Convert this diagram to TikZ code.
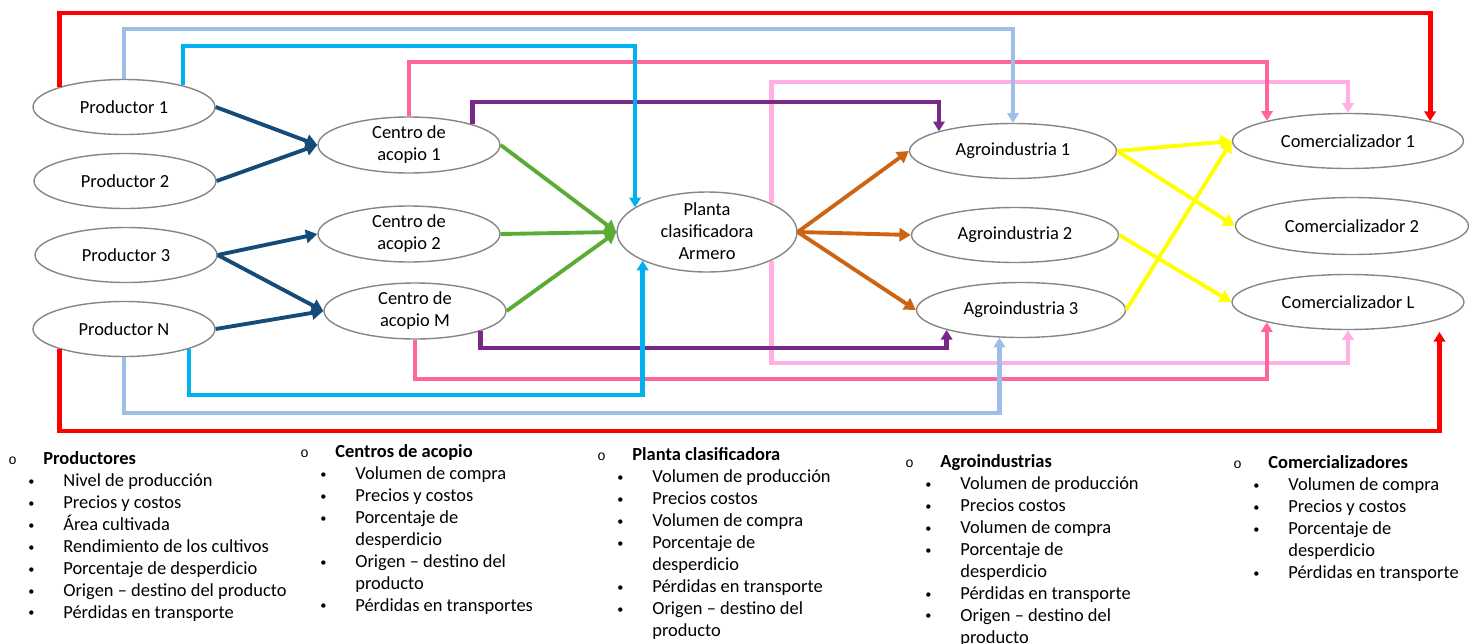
\documentclass[tikz,border=0pt]{standalone}
\usepackage{fontspec}
\setmainfont{Carlito}
\newfontfamily\ringfont{Liberation Mono}
\usetikzlibrary{shapes.geometric, arrows.meta, calc}
\definecolor{prodblue}{RGB}{20, 75, 120}
\definecolor{acopgreen}{RGB}{90, 172, 55}
\definecolor{agroorange}{RGB}{205, 100, 20}
\definecolor{comyellow}{RGB}{255, 255, 0}
\definecolor{linkred}{RGB}{255, 0, 0}
\definecolor{linkblue}{RGB}{157, 190, 230}
\definecolor{linkcyan}{RGB}{0, 176, 240}
\definecolor{linkpink}{RGB}{255, 102, 153}
\definecolor{linkrose}{RGB}{255, 175, 228}
\definecolor{linkpurple}{RGB}{120, 40, 135}

\newcommand{\lsthead}[1]{\makebox[0.7cm][l]{\ringfont\footnotesize o}\textbf{#1}}
\newcommand{\lstitem}[1]{\hspace*{0.4cm}\makebox[0.7cm][l]{\raisebox{0.6pt}{\scriptsize\textbullet}}#1}
\newcommand{\lstcont}[1]{\hspace*{1.1cm}#1}

\begin{document}
\begin{tikzpicture}[
    x=0.02cm, y=-0.02cm,
    font=\fontsize{10.5}{12.5}\selectfont,
    actor/.style={ellipse, draw=gray!95, line width=0.8pt, inner sep=0pt, minimum height=1.1cm, align=center},
    flow/.style={line width=2.2pt, -{Triangle[length=6.5pt, width=7.5pt]}},
    route/.style={line width=2.5pt, -{Triangle[length=5.5pt, width=6.5pt]}},
    lst/.style={anchor=north west, inner sep=0pt, align=left},
]
\useasboundingbox (0,0) rectangle (1478,643);

% --- Actors of the chain ---
\node[actor, minimum width=3.64cm] (p1) at (124,107) {Productor 1};
\node[actor, minimum width=3.64cm] (p2) at (125,181) {Productor 2};
\node[actor, minimum width=3.64cm] (p3) at (126,255) {Productor 3};
\node[actor, minimum width=3.64cm] (pN) at (124,329) {Productor N};

\node[actor, minimum width=3.64cm, minimum height=1.12cm] (c1) at (409,145) {Centro de\\acopio 1};
\node[actor, minimum width=3.64cm, minimum height=1.12cm] (c2) at (409,234) {Centro de\\acopio 2};
\node[actor, minimum width=3.64cm, minimum height=1.12cm] (cM) at (415,311) {Centro de\\acopio M};

\node[actor, minimum width=3.6cm, minimum height=1.6cm] (pl) at (707,232)
    {\smash{\raisebox{-3.5pt}{\begin{tabular}{@{}c@{}}Planta\\clasificadora\\Armero\end{tabular}}}};

\node[actor, minimum width=4.14cm] (a1) at (1013,151) {Agroindustria 1};
\node[actor, minimum width=4.14cm] (a2) at (1015,235) {Agroindustria 2};
\node[actor, minimum width=4.18cm] (a3) at (1021,310) {Agroindustria 3};

\node[actor, minimum width=4.62cm] (m1) at (1348,141) {Comercializador 1};
\node[actor, minimum width=4.66cm, minimum height=1.14cm] (m2) at (1352,226) {Comercializador 2};
\node[actor, minimum width=4.64cm] (mL) at (1348,302) {Comercializador L};

% --- Long links above and below the chain ---
\draw[route, linkrose] (pl.24) |- (m1.north |- 0,82) -- (m1.north);
\draw[route, linkrose] (pl.-24) |- (mL.south |- 0,363) -- (mL.south);
\draw[route, linkpink] (c1.north) |- (m1.166 |- 0,62) -- (m1.166);
\draw[route, linkpink] (cM.south) |- (mL.194 |- 0,379) -- (mL.194);
\draw[route, linkpurple] (c1.18) |- (a1.165 |- 0,102) -- (a1.165);
\draw[route, linkpurple] (cM.-17) |- (a3.195 |- 0,348) -- (a3.195);
\draw[route, linkcyan] (p1.20) |- (pl.161 |- 0,46) -- (pl.161);
\draw[route, linkcyan] (pN.south east) |- (pl.204 |- 0,395) -- (pl.204);
\draw[route, linkblue] (p1.north) |- (a1.north |- 0,29) -- (a1.north);
\draw[route, linkblue] (pN.south) |- (a3.232 |- 0,413) -- (a3.232);
\coordinate (redend) at ($(mL.south east)+(9,10)$);
\draw[route, linkred, line width=2.8pt] (p1.north west) |- (m1.north east |- 0,13) -- (m1.north east);
\draw[route, linkred, line width=2.8pt] (pN.south west) |- (redend |- 0,431) -- (redend);

% --- Flows between neighbours ---
\draw[flow, prodblue] (p1.east) -- (c1.west);
\draw[flow, prodblue] (p2.east) -- (c1.west);
\draw[flow, prodblue] (p3.east) -- (c2.west);
\draw[flow, prodblue] (p3.east) -- (cM.west);
\draw[flow, prodblue] (pN.east) -- (cM.west);

\draw[flow, acopgreen] (c1.east) -- (pl.west);
\draw[flow, acopgreen] (c2.east) -- (pl.west);
\draw[flow, acopgreen] (cM.east) -- (pl.west);

\draw[flow, agroorange] (pl.east) -- (a1.west);
\draw[flow, agroorange] (pl.east) -- (a2.west);
\draw[flow, agroorange] (pl.east) -- (a3.west);

\draw[flow, comyellow] (a1.east) -- (m1.west);
\draw[flow, comyellow] (a1.east) -- (m2.west);
\draw[flow, comyellow] (a2.east) -- (mL.west);
\draw[flow, comyellow] (a3.east) -- (m1.west);

% --- Variables of each link ---
\node[lst] (vprod) at (8,451) {\lsthead{Productores}\\
    \lstitem{Nivel de producción}\\
    \lstitem{Precios y costos}\\
    \lstitem{Área cultivada}\\
    \lstitem{Rendimiento de los cultivos}\\
    \lstitem{Porcentaje de desperdicio}\\
    \lstitem{Origen – destino del producto}\\
    \lstitem{Pérdidas en transporte}};
\node[lst] (vacop) at (300,444) {\lsthead{Centros de acopio}\\
    \lstitem{Volumen de compra}\\
    \lstitem{Precios y costos}\\
    \lstitem{Porcentaje de}\\
    \lstcont{desperdicio}\\
    \lstitem{Origen – destino del}\\
    \lstcont{producto}\\
    \lstitem{Pérdidas en transportes}};
\node[lst] (vplanta) at (597,447) {\lsthead{Planta clasificadora}\\
    \lstitem{Volumen de producción}\\
    \lstitem{Precios costos}\\
    \lstitem{Volumen de compra}\\
    \lstitem{Porcentaje de}\\
    \lstcont{desperdicio}\\
    \lstitem{Pérdidas en transporte}\\
    \lstitem{Origen – destino del}\\
    \lstcont{producto}};
\node[lst] (vagro) at (905,454) {\lsthead{Agroindustrias}\\
    \lstitem{Volumen de producción}\\
    \lstitem{Precios costos}\\
    \lstitem{Volumen de compra}\\
    \lstitem{Porcentaje de}\\
    \lstcont{desperdicio}\\
    \lstitem{Pérdidas en transporte}\\
    \lstitem{Origen – destino del}\\
    \lstcont{producto}};
\node[lst] (vcom) at (1233,455) {\lsthead{Comercializadores}\\
    \lstitem{Volumen de compra}\\
    \lstitem{Precios y costos}\\
    \lstitem{Porcentaje de}\\
    \lstcont{desperdicio}\\
    \lstitem{Pérdidas en transporte}};

\end{tikzpicture}
\end{document}
